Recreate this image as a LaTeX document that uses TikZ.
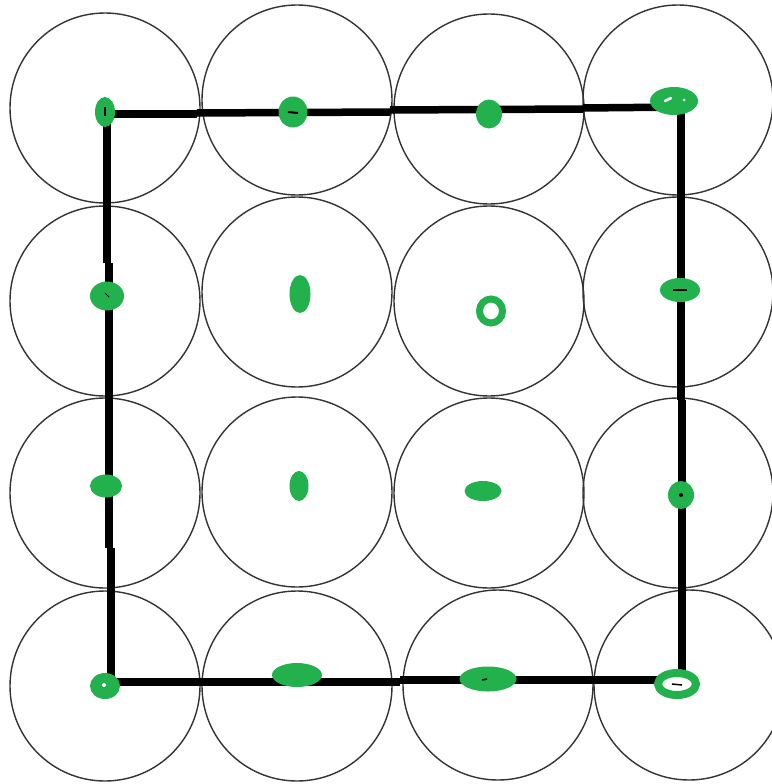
\documentclass[tikz,border=0pt]{standalone}
\begin{document}
\begin{tikzpicture}[x=1pt,y=-1pt,
  ring/.style={draw=black!80,line width=1.4pt},
  wire/.style={line width=7.5pt,line cap=butt,black},
  blob/.style={fill=paintgreen},
  hollow/.style={draw=paintgreen,fill=white,line width=8pt}]
\definecolor{paintgreen}{RGB}{34,177,76}
\fill[white] (0,0) rectangle (771,784);
\useasboundingbox (0,0) rectangle (771,784);
% circles
\foreach \x/\y in {105/108,297/100,489/109,678/100,
                   105/301,297/292,489/301,678/292,
                   105/493,297/492,489/493,678/493,
                   105/686,297/686,498/685,689/685}
  \draw[ring] (\x,\y) circle (95);
% corner coordinates of the square path
\coordinate (tl) at (105,114);
\coordinate (tr) at (684,107);
\coordinate (br) at (682,680);
\coordinate (bl) at (111,682);
% top
\draw[wire] (tl) -- (197,114);
\draw[wire] (197,113) -- (390,112);
\draw[wire] (390,110) -- (583,109);
\draw[wire] (583,108) -- (tr);
% right
\draw[wire] (681,104) -- (681,400);
\draw[wire] (682,400) -- (br);
% bottom
\draw[wire] (br) -- (400,680);
\draw[wire] (400,682) -- (bl);
% left
\draw[wire] (111,685.5) -- (111,548);
\draw[wire] (109,548) -- (109,263);
\draw[wire] (107,263) -- (107,110.5);
% green marks
\fill[blob] (105,112) ellipse (10 and 15);
\draw[black,line width=1.2pt] (105,107) -- (105,116);
\fill[blob] (293,112) ellipse (14.5 and 15.5);
\draw[black,line width=2pt] (288,112) -- (298,113);
\fill[blob] (489,114) ellipse (13 and 14.5);
\fill[blob] (674,101) ellipse (24 and 14);
\draw[white,line width=2.5pt,line cap=round] (665,101) -- (671,98);
\fill[white] (684,100) circle (1.5);
\fill[blob] (107,296) ellipse (17 and 14.5);
\draw[black,line width=1pt] (105,293) -- (109,297);
\fill[blob] (300,294) ellipse (10.5 and 19);
\draw[hollow,line width=7pt] (491,311) ellipse (11.5 and 12);
\fill[blob] (680,290) ellipse (20 and 12);
\draw[black,line width=2pt] (673,290) -- (687,290);
\fill[blob] (106,486) ellipse (16 and 11.5);
\fill[blob] (299,486) ellipse (9.5 and 15);
\fill[blob] (483,491) ellipse (18.5 and 10);
\fill[blob] (681,495) ellipse (13 and 14);
\fill[black] (681,495) circle (2);
\fill[blob] (105,686) ellipse (15 and 13);
\fill[white] (104,685) circle (2);
\fill[blob] (297,675) ellipse (25 and 12);
\fill[blob] (488,679) ellipse (28.5 and 12.5);
\draw[black,line width=1.5pt] (482,680) -- (487,679);
\draw[hollow] (677,684) ellipse (19 and 11);
\draw[black,line width=1.5pt] (672,684) -- (682,685);
\end{tikzpicture}
\end{document}
